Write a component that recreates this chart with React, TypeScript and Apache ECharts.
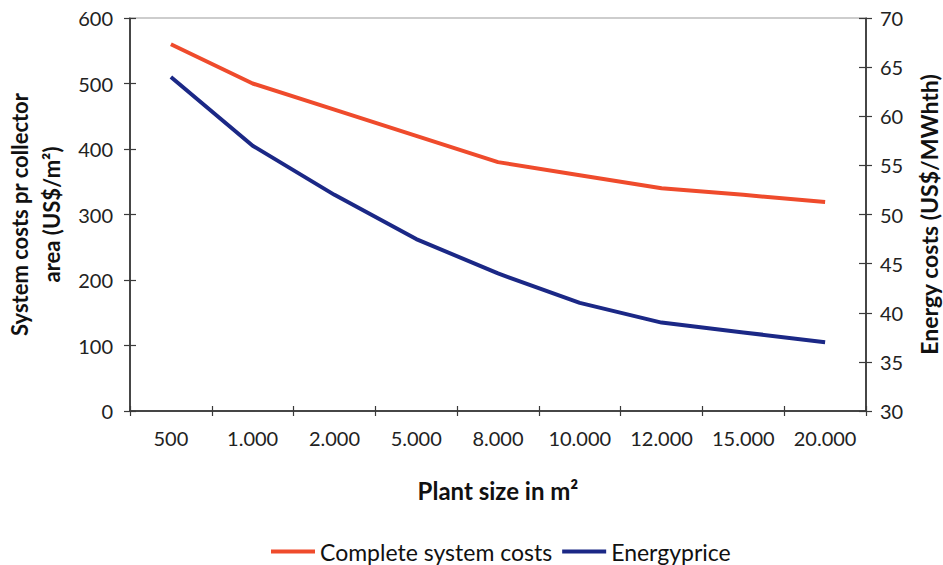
import { useEffect, useRef } from "react";
import * as echarts from "echarts";

const categories = ["500", "1.000", "2.000", "5.000", "8.000", "10.000", "12.000", "15.000", "20.000"];
const systemCosts = [560, 500, 460, 420, 380, 360, 340, 330, 319];
const energyPrice = [64, 57, 52, 47.5, 44, 41, 39, 38, 37];
const leftRange = [0, 600, 100];
const rightRange = [30, 70, 5];
const seriesNames = ["Complete system costs", "Energyprice"];

const FONT = "Lato";
const AXIS_COLOR = "#3a3a3a";
const RED = "#EF4B2C";
const BLUE = "#1B2886";

export default function App() {
  const ref = useRef<HTMLDivElement>(null);
  useEffect(() => {
    if (!ref.current) return;
    const chart = echarts.init(ref.current, undefined, { renderer: "svg" });
    const axisLine = { show: true, lineStyle: { color: AXIS_COLOR, width: 1.5 } };
    const labelStyle = { fontFamily: FONT, fontSize: 20, color: "#222" };
    const nameStyle = { fontFamily: FONT, fontSize: 24, fontWeight: "bold" as const, color: "#111" };
    chart.setOption({
      animation: false,
      backgroundColor: "#ffffff",
      grid: { left: 130, right: 77, top: 18, bottom: 154, containLabel: false, outerBoundsMode: "none" },
      legend: {
        top: 535,
        left: 266,
        icon: "rect",
        itemWidth: 44,
        itemHeight: 4,
        itemGap: 10,
        textStyle: { fontFamily: FONT, fontSize: 23, color: "#111" },
        data: seriesNames,
      },
      xAxis: [
        {
          type: "category",
          data: categories,
          position: "bottom",
          axisLine,
          axisTick: { show: true, length: 5, lineStyle: { color: AXIS_COLOR, width: 1.2 } },
          axisLabel: { ...labelStyle, margin: 17 },
          name: "Plant size in m²",
          nameLocation: "middle",
          nameGap: 67,
          nameTextStyle: nameStyle,
          splitLine: { show: false },
        },
        {
          type: "category",
          data: categories,
          position: "bottom",
          axisLine,
          axisTick: { show: true, inside: true, length: 5, lineStyle: { color: AXIS_COLOR, width: 1.2 } },
          axisLabel: { show: false },
          splitLine: { show: false },
        },
        {
          type: "category",
          data: categories,
          position: "top",
          axisLine: { show: true, lineStyle: { color: "#BDBDBD", width: 1.5 } },
          axisTick: { show: false },
          axisLabel: { show: false },
          splitLine: { show: false },
        },
      ],
      yAxis: [
        {
          type: "value",
          position: "left",
          min: leftRange[0],
          max: leftRange[1],
          interval: leftRange[2],
          axisLine,
          axisTick: { show: true, length: 6, lineStyle: { color: AXIS_COLOR, width: 1.2 } },
          axisLabel: { ...labelStyle, margin: 17 },
          splitLine: { show: false },
          name: "System costs pr collector\narea (US$/m²)",
          nameLocation: "middle",
          nameRotate: 90,
          nameGap: 56,
          nameTextStyle: { ...nameStyle, fontSize: 22, lineHeight: 32 },
        },
        {
          type: "value",
          position: "right",
          min: rightRange[0],
          max: rightRange[1],
          interval: rightRange[2],
          axisLine,
          axisTick: { show: true, length: 6, lineStyle: { color: AXIS_COLOR, width: 1.2 } },
          axisLabel: { ...labelStyle, margin: 14 },
          splitLine: { show: false },
          name: "Energy costs (US$/MWhth)",
          nameLocation: "middle",
          nameRotate: 90,
          nameGap: 49,
          nameTextStyle: { ...nameStyle, fontSize: 23, lineHeight: 27 },
        },
        {
          type: "value",
          position: "left",
          min: leftRange[0],
          max: leftRange[1],
          interval: leftRange[2],
          axisLine,
          axisTick: { show: true, inside: true, length: 6, lineStyle: { color: AXIS_COLOR, width: 1.2 } },
          axisLabel: { show: false },
          splitLine: { show: false },
        },
        {
          type: "value",
          position: "right",
          min: rightRange[0],
          max: rightRange[1],
          interval: rightRange[2],
          axisLine,
          axisTick: { show: true, inside: true, length: 7, lineStyle: { color: AXIS_COLOR, width: 1.2 } },
          axisLabel: { show: false },
          splitLine: { show: false },
        },
      ],
      series: [
        {
          name: seriesNames[0],
          type: "line",
          xAxisIndex: 0,
          yAxisIndex: 0,
          data: systemCosts,
          symbol: "none",
          lineStyle: { color: RED, width: 4 },
          itemStyle: { color: RED },
        },
        {
          name: seriesNames[1],
          type: "line",
          xAxisIndex: 0,
          yAxisIndex: 1,
          data: energyPrice,
          symbol: "none",
          lineStyle: { color: BLUE, width: 4 },
          itemStyle: { color: BLUE },
        },
      ],
    });
    return () => chart.dispose();
  }, []);
  return (
    <div
      ref={ref}
      style={{ position: "absolute", left: 0, top: 0, width: 943, height: 565, background: "#fff" }}
    />
  );
}
